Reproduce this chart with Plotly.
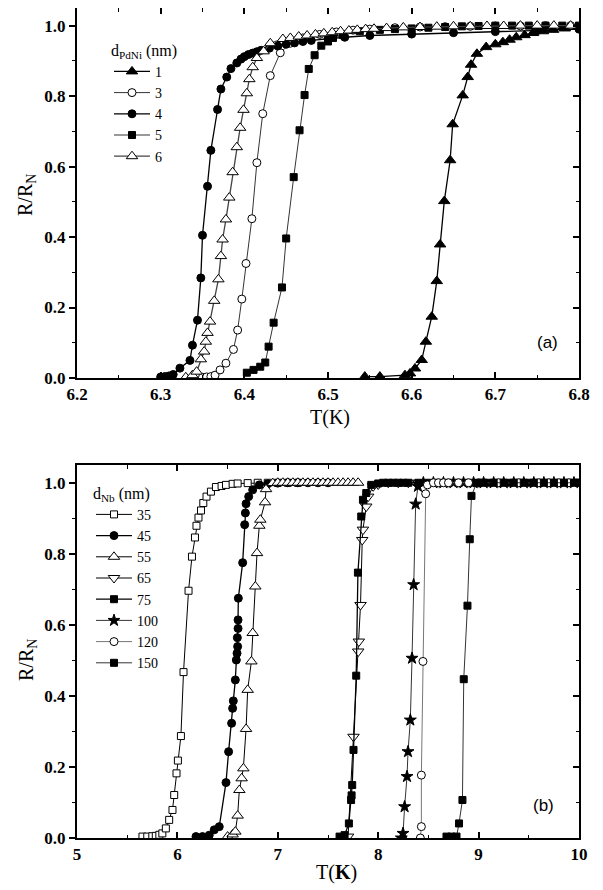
import plotly.graph_objects as go

# ---------------- Panel (a): d_PdNi series ----------------
a_labels = ["1", "3", "4", "5", "6"]

a1_T = [6.544, 6.562, 6.592, 6.598, 6.604, 6.612, 6.617, 6.624, 6.630, 6.634, 6.639, 6.646, 6.649,
        6.661, 6.667, 6.671, 6.678, 6.689, 6.700, 6.709, 6.717, 6.725, 6.735, 6.745, 6.757, 6.769,
        6.783, 6.797]
a1_R = [0.004, 0.004, 0.008, 0.013, 0.027, 0.051, 0.103, 0.174, 0.275, 0.379, 0.502, 0.618, 0.720,
        0.802, 0.854, 0.889, 0.920, 0.939, 0.947, 0.953, 0.960, 0.967, 0.973, 0.979, 0.984, 0.988,
        0.992, 0.996]

a3_T = [6.350, 6.355, 6.360, 6.365, 6.371, 6.378, 6.387, 6.392, 6.397, 6.402, 6.409, 6.415, 6.422,
        6.431, 6.443, 6.455, 6.470, 6.490, 6.510, 6.530, 6.550, 6.580, 6.610, 6.640, 6.670, 6.700,
        6.730, 6.760, 6.790]
a3_R = [0.002, 0.003, 0.004, 0.008, 0.023, 0.042, 0.081, 0.136, 0.224, 0.325, 0.452, 0.611, 0.750,
        0.858, 0.923, 0.950, 0.965, 0.975, 0.982, 0.987, 0.990, 0.994, 0.996, 0.997, 0.998, 0.999,
        0.999, 1.000, 1.000]

a4_T = [6.300, 6.305, 6.310, 6.315, 6.323, 6.335, 6.338, 6.344, 6.348, 6.350, 6.356, 6.360, 6.368,
        6.372, 6.379, 6.384, 6.391, 6.396, 6.400, 6.405, 6.410, 6.415, 6.420, 6.430, 6.440, 6.450,
        6.460, 6.470, 6.480, 6.500, 6.520, 6.550, 6.600, 6.650, 6.700, 6.750, 6.800]
a4_R = [0.003, 0.004, 0.006, 0.010, 0.028, 0.050, 0.093, 0.164, 0.284, 0.405, 0.544, 0.646, 0.762,
        0.820, 0.854, 0.878, 0.894, 0.905, 0.912, 0.918, 0.922, 0.926, 0.930, 0.936, 0.942, 0.947,
        0.951, 0.955, 0.958, 0.963, 0.967, 0.972, 0.976, 0.980, 0.983, 0.986, 0.990]

a5_T = [6.403, 6.411, 6.419, 6.425, 6.429, 6.435, 6.445, 6.450, 6.459, 6.466, 6.472, 6.477, 6.484,
        6.492, 6.500, 6.506, 6.518, 6.538, 6.562, 6.580, 6.600, 6.620, 6.640, 6.660, 6.680, 6.700,
        6.720, 6.740, 6.760, 6.780, 6.800]
a5_R = [0.015, 0.023, 0.032, 0.044, 0.089, 0.157, 0.257, 0.396, 0.570, 0.703, 0.803, 0.877, 0.916,
        0.943, 0.955, 0.965, 0.973, 0.984, 0.988, 0.990, 0.992, 0.994, 0.996, 0.998, 0.999, 1.000,
        1.000, 1.000, 1.000, 1.000, 1.000]

a6_T = [6.330, 6.338, 6.343, 6.348, 6.352, 6.354, 6.356, 6.359, 6.364, 6.369, 6.372, 6.374, 6.378,
        6.382, 6.386, 6.391, 6.395, 6.399, 6.403, 6.406, 6.410, 6.415, 6.423, 6.431, 6.446, 6.455,
        6.465, 6.475, 6.485, 6.495, 6.505, 6.515, 6.525, 6.535, 6.545, 6.555, 6.570, 6.590, 6.610,
        6.630, 6.650, 6.670, 6.690, 6.710, 6.730, 6.750, 6.770, 6.790]
a6_R = [0.002, 0.008, 0.018, 0.053, 0.075, 0.103, 0.128, 0.160, 0.219, 0.280, 0.346, 0.393, 0.450,
        0.512, 0.584, 0.655, 0.710, 0.761, 0.808, 0.848, 0.882, 0.908, 0.927, 0.950, 0.962, 0.965,
        0.969, 0.972, 0.975, 0.978, 0.981, 0.984, 0.986, 0.988, 0.990, 0.991, 0.993, 0.995, 0.996,
        0.997, 0.998, 0.998, 0.999, 0.999, 1.000, 1.000, 1.000, 1.000]

# ---------------- Panel (b): d_Nb series ----------------
b_labels = ["35", "45", "55", "65", "75", "100", "120", "150"]

b35_T = [5.652, 5.700, 5.750, 5.785, 5.820, 5.850, 5.885, 5.918, 5.951, 5.968, 5.991, 6.005, 6.035,
         6.061, 6.111, 6.145, 6.175, 6.190, 6.210, 6.235, 6.258, 6.290, 6.334, 6.384, 6.440, 6.484,
         6.550, 6.600, 6.700, 6.800, 6.900, 7.000, 7.100, 7.200]
b35_R = [0.004, 0.004, 0.005, 0.006, 0.009, 0.013, 0.027, 0.051, 0.079, 0.121, 0.182, 0.218, 0.287,
         0.467, 0.696, 0.792, 0.846, 0.879, 0.902, 0.922, 0.943, 0.961, 0.975, 0.988, 0.991, 0.994,
         0.997, 0.998, 0.999, 1.000, 1.000, 1.000, 1.000, 1.000]

b45_T = [6.185, 6.250, 6.317, 6.367, 6.417, 6.484, 6.510, 6.540, 6.550, 6.557, 6.577, 6.587, 6.594,
         6.600, 6.597, 6.604, 6.604, 6.607, 6.650, 6.670, 6.677, 6.684, 6.710, 6.750, 6.816, 6.900,
         7.000, 7.100, 7.200, 7.300, 7.400, 7.500]
b45_R = [0.004, 0.004, 0.008, 0.023, 0.032, 0.156, 0.243, 0.323, 0.365, 0.386, 0.445, 0.501, 0.520,
         0.539, 0.564, 0.590, 0.614, 0.675, 0.775, 0.882, 0.915, 0.941, 0.961, 0.980, 0.994, 0.997,
         0.999, 1.000, 1.000, 1.000, 1.000, 1.000]

b55_T = [6.500, 6.550, 6.577, 6.600, 6.617, 6.640, 6.657, 6.684, 6.700, 6.737, 6.750, 6.776, 6.793,
         6.816, 6.826, 6.873, 6.883, 6.950, 7.000, 7.050, 7.100, 7.150, 7.200, 7.250, 7.300, 7.350,
         7.400, 7.450, 7.500, 7.550, 7.600, 7.650, 7.700, 7.750, 7.800]
b55_R = [0.004, 0.010, 0.018, 0.063, 0.135, 0.168, 0.196, 0.307, 0.417, 0.497, 0.577, 0.708, 0.802,
         0.879, 0.896, 0.945, 0.982, 0.999, 1.000, 1.000, 1.000, 1.000, 1.000, 1.000, 1.000, 1.000,
         1.000, 1.000, 1.000, 1.000, 1.000, 1.000, 1.000, 1.000, 1.000]

b65_T = [7.700, 7.754, 7.801, 7.807, 7.824, 7.841, 7.848, 7.881, 7.900, 7.950, 8.000, 8.100, 8.200,
         8.300, 8.400, 8.500]
b65_R = [0.004, 0.285, 0.525, 0.553, 0.656, 0.839, 0.868, 0.933, 0.961, 0.990, 0.995, 1.000, 1.000,
         1.000, 1.000, 1.000]

b75_T = [7.615, 7.665, 7.708, 7.730, 7.735, 7.741, 7.754, 7.781, 7.798, 7.831, 7.848, 7.881, 7.931,
         8.000, 8.050, 8.100, 8.150, 8.200, 8.250, 8.300, 8.400, 8.500, 8.600, 8.700, 8.800, 8.900,
         9.000, 9.100, 9.200, 9.300, 9.400, 9.500, 9.600, 9.700, 9.800, 9.900, 10.000]
b75_R = [0.004, 0.008, 0.041, 0.107, 0.120, 0.149, 0.248, 0.457, 0.747, 0.905, 0.952, 0.971, 0.994,
         0.998, 1.000, 1.000, 1.000, 1.000, 1.000, 1.000, 1.000, 1.000, 1.000, 1.000, 1.000, 1.000,
         1.000, 1.000, 1.000, 1.000, 1.000, 1.000, 1.000, 1.000, 1.000, 1.000, 1.000]

b100_T = [8.230, 8.247, 8.263, 8.287, 8.297, 8.320, 8.337, 8.353, 8.373, 8.396, 8.450, 8.550, 8.650,
          8.750, 8.850, 8.950, 9.050, 9.150, 9.250, 9.350, 9.450, 9.550, 9.650, 9.750, 9.850, 9.950]
b100_R = [0.000, 0.013, 0.088, 0.173, 0.243, 0.332, 0.506, 0.713, 0.940, 0.990, 1.000, 1.000, 1.000,
          1.000, 1.000, 1.000, 1.000, 1.000, 1.000, 1.000, 1.000, 1.000, 1.000, 1.000, 1.000, 1.000]

b120_T = [8.420, 8.430, 8.430, 8.446, 8.473, 8.490, 8.550, 8.600, 8.650, 8.700, 8.800, 8.900, 9.000,
          9.200, 9.400, 9.600, 9.700, 9.800, 9.900]
b120_R = [0.000, 0.032, 0.177, 0.497, 0.969, 0.994, 1.000, 1.000, 1.000, 1.000, 1.000, 1.000, 1.000,
          1.000, 1.000, 1.000, 1.000, 1.000, 1.000]

b150_T = [8.680, 8.730, 8.780, 8.805, 8.839, 8.852, 8.889, 8.912, 8.929, 8.979, 9.050, 9.150, 9.250,
          9.350, 9.450, 9.550, 9.650, 9.750, 9.850, 9.950, 10.000]
b150_R = [0.004, 0.004, 0.004, 0.041, 0.107, 0.447, 0.654, 0.841, 0.963, 0.999, 1.000, 1.000, 1.000,
          1.000, 1.000, 1.000, 1.000, 1.000, 1.000, 1.000, 1.000]

a_x_ticks = [6.2, 6.3, 6.4, 6.5, 6.6, 6.7, 6.8]
b_x_ticks = [5, 6, 7, 8, 9, 10]
y_ticks = [0.0, 0.2, 0.4, 0.6, 0.8, 1.0]

# ---------------- figure ----------------
# The page has the browser's default 8 px body margin, so the figure is
# sized to fill the rest of the 603x890 window and page pixels are mapped
# into figure fractions with that offset.
PAGE_W, PAGE_H = 603, 890
OFF = 8
W, H = PAGE_W - OFF, PAGE_H - OFF
SERIF = "Liberation Serif"
BLACK = "#000000"

def px_x(p):
    return (p - OFF) / W

def px_y(p):
    return min(1.0, 1 - (p - OFF) / H)

fig = go.Figure()

def add(T, R, name, symbol, filled, size, lw, lcolor, xa, ya, legend):
    fig.add_trace(go.Scatter(
        x=T, y=R, name=name, mode="lines+markers",
        line=dict(color=lcolor, width=lw),
        marker=dict(symbol=symbol, size=size,
                    color=BLACK if filled else "white",
                    line=dict(color=BLACK, width=1)),
        xaxis=xa, yaxis=ya, legend=legend, cliponaxis=True,
    ))

# panel (a)
add(a1_T, a1_R, a_labels[0], "triangle-up", True, 10, 1.3, BLACK, "x", "y", "legend")
add(a3_T, a3_R, a_labels[1], "circle", False, 8, 0.8, BLACK, "x", "y", "legend")
add(a4_T, a4_R, a_labels[2], "circle", True, 8, 1.3, BLACK, "x", "y", "legend")
add(a5_T, a5_R, a_labels[3], "square", True, 7, 0.8, BLACK, "x", "y", "legend")
add(a6_T, a6_R, a_labels[4], "triangle-up", False, 10, 1.3, "#444444", "x", "y", "legend")

# panel (b)
add(b35_T, b35_R, b_labels[0], "square", False, 7, 1.0, BLACK, "x2", "y2", "legend2")
add(b45_T, b45_R, b_labels[1], "circle", True, 8, 1.3, BLACK, "x2", "y2", "legend2")
add(b55_T, b55_R, b_labels[2], "triangle-up", False, 10, 1.0, BLACK, "x2", "y2", "legend2")
add(b65_T, b65_R, b_labels[3], "triangle-down", False, 10, 1.0, BLACK, "x2", "y2", "legend2")
add(b75_T, b75_R, b_labels[4], "square", True, 7, 1.3, BLACK, "x2", "y2", "legend2")
add(b100_T, b100_R, b_labels[5], "star", True, 9, 0.8, BLACK, "x2", "y2", "legend2")
add(b120_T, b120_R, b_labels[6], "circle", False, 8, 1.0, "#777777", "x2", "y2", "legend2")
add(b150_T, b150_R, b_labels[7], "square", True, 7, 0.8, BLACK, "x2", "y2", "legend2")

# empty traces so that the mirrored (inside-tick) axes are drawn
for xa, ya in (("x3", "y3"), ("x4", "y4")):
    fig.add_trace(go.Scatter(x=[], y=[], xaxis=xa, yaxis=ya, showlegend=False, hoverinfo="skip"))

xdom = [px_x(77), px_x(579)]
ydom_a = [px_y(378), px_y(7)]
ydom_b = [px_y(838), px_y(465)]

tickfont = dict(family=SERIF, size=17, color=BLACK, weight="bold")

def xaxis(rng, ticks_vals, minor_dt, anchor, fmt, overlay=None):
    d = dict(domain=xdom, range=rng, tickvals=ticks_vals, tickformat=fmt,
             ticks="inside", ticklen=6, tickwidth=1.5, tickcolor=BLACK,
             minor=dict(dtick=minor_dt, tick0=rng[0], ticks="inside", ticklen=3.5, tickwidth=1.2, tickcolor=BLACK),
             showline=True, linewidth=2, linecolor=BLACK, showgrid=False, zeroline=False,
             tickfont=tickfont, anchor=anchor, fixedrange=True, automargin=False)
    if overlay:
        d.update(overlaying=overlay, side="top", showticklabels=False)
    else:
        d.update(mirror=True)
    return d

def yaxis(dom, anchor, overlay=None):
    d = dict(domain=dom, range=[0, 1.05], tickvals=y_ticks, tickformat=".1f",
             ticklen=6, tickwidth=1.5, tickcolor=BLACK,
             showline=True, linewidth=2, linecolor=BLACK, showgrid=False, zeroline=False,
             tickfont=tickfont, anchor=anchor, fixedrange=True, automargin=False)
    if overlay:
        d.update(overlaying=overlay, side="right", showticklabels=False, ticks="inside",
                 minor=dict(dtick=0.1, tick0=0, ticks="inside", ticklen=3.5, tickwidth=1.2, tickcolor=BLACK))
    else:
        d.update(mirror=True, ticks="outside",
                 minor=dict(dtick=0.1, tick0=0, ticks="outside", ticklen=3.5, tickwidth=1.2, tickcolor=BLACK))
    return d

legend_common = dict(xanchor="left", yanchor="top", bgcolor="rgba(0,0,0,0)", borderwidth=0,
                     font=dict(family=SERIF, size=14, color=BLACK),
                     tracegroupgap=0, itemsizing="trace", itemwidth=36)

fig.update_layout(
    template="none",
    width=W, height=H,
    margin=dict(l=0, r=0, t=0, b=0),
    paper_bgcolor="white", plot_bgcolor="white",
    showlegend=True,
    xaxis=xaxis([6.2, 6.8], a_x_ticks, 0.05, "y", ".1f"),
    yaxis=yaxis(ydom_a, "x"),
    xaxis3=xaxis([6.2, 6.8], a_x_ticks, 0.05, "y", ".1f", overlay="x"),
    yaxis3=yaxis(ydom_a, "x", overlay="y"),
    xaxis2=xaxis([5, 10], b_x_ticks, 0.5, "y2", "d"),
    yaxis2=yaxis(ydom_b, "x2"),
    xaxis4=xaxis([5, 10], b_x_ticks, 0.5, "y2", "d", overlay="x2"),
    yaxis4=yaxis(ydom_b, "x2", overlay="y2"),
    legend=dict(x=px_x(109), y=px_y(35),
                title=dict(text="d<sub>PdNi</sub> (nm)", font=dict(family=SERIF, size=16, color=BLACK)),
                **legend_common),
    legend2=dict(x=px_x(91), y=px_y(478),
                 title=dict(text="d<sub>Nb</sub> (nm)", font=dict(family=SERIF, size=16, color=BLACK)),
                 **legend_common),
    annotations=[
        dict(text="T(K)", x=px_x(330), y=px_y(417), xref="paper", yref="paper", showarrow=False,
             xanchor="center", yanchor="middle", font=dict(family=SERIF, size=20, color=BLACK)),
        dict(text="T(<b>K</b>)", x=px_x(336), y=px_y(872), xref="paper", yref="paper", showarrow=False,
             xanchor="center", yanchor="middle", font=dict(family=SERIF, size=20, color=BLACK)),
        dict(text="R/R<sub>N</sub>", x=px_x(27), y=px_y(195), xref="paper", yref="paper", showarrow=False,
             xanchor="center", yanchor="middle", textangle=-90, font=dict(family=SERIF, size=20, color=BLACK)),
        dict(text="R/R<sub>N</sub>", x=px_x(27), y=px_y(660), xref="paper", yref="paper", showarrow=False,
             xanchor="center", yanchor="middle", textangle=-90, font=dict(family=SERIF, size=20, color=BLACK)),
        dict(text="(a)", x=px_x(547), y=px_y(342), xref="paper", yref="paper", showarrow=False,
             xanchor="center", yanchor="middle", font=dict(family="Liberation Sans", size=17, color=BLACK)),
        dict(text="(b)", x=px_x(543), y=px_y(805), xref="paper", yref="paper", showarrow=False,
             xanchor="center", yanchor="middle", font=dict(family="Liberation Sans", size=17, color=BLACK)),
    ],
)

fig.write_html("out.html")
